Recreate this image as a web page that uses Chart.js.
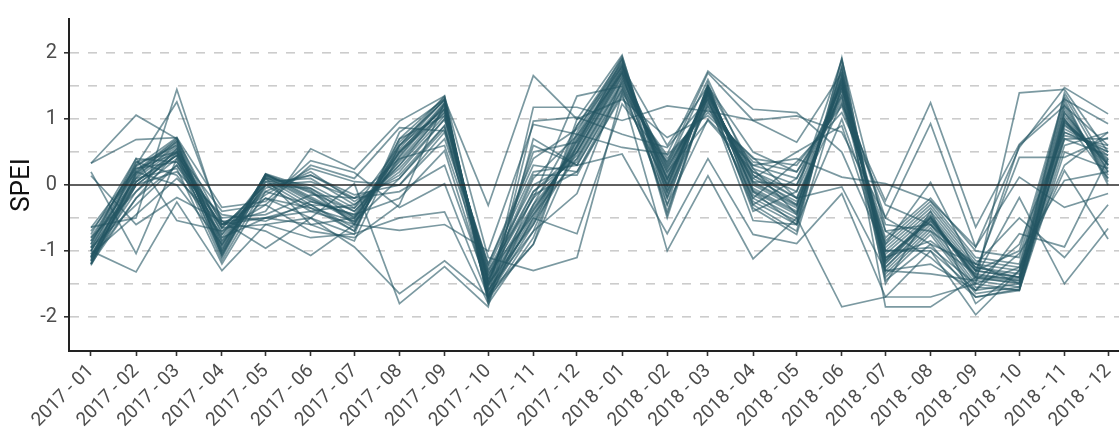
<!DOCTYPE html>
<html>
<head>
<meta charset="utf-8">
<script src="https://cdn.jsdelivr.net/npm/chart.js@4.4.1/dist/chart.umd.min.js"></script>
<style>
  html, body { margin: 0; padding: 0; background: #ffffff; }
  #wrap { width: 1119px; height: 429px; position: relative; }
</style>
</head>
<body>
<div id="wrap"><canvas id="speiChart" width="1119" height="429"></canvas></div>
<script>
// Meses (primer día de cada mes)
const months = [
  "2017-01", "2017-02", "2017-03", "2017-04", "2017-05", "2017-06",
  "2017-07", "2017-08", "2017-09", "2017-10", "2017-11", "2017-12",
  "2018-01", "2018-02", "2018-03", "2018-04", "2018-05", "2018-06",
  "2018-07", "2018-08", "2018-09", "2018-10", "2018-11", "2018-12"
];

// Marcas del eje Y (rejilla cada 0.5, etiqueta en enteros)
const yTicks = [-2, -1.5, -1, -0.5, 0, 0.5, 1, 1.5, 2];

// Series SPEI (una por estación)
const core01 = [-1.2, 0.17, 0.65, -1.05, 0.16, -0.2, -0.55, 0.5, 1.25, -1.6, -0.45, 0.65, 1.8, 0.0, 1.45, -0.05, -0.4, 1.65, -1.15, -0.48, -1.4, -1.5, 0.95, 0.4];
const core02 = [-1.15, 0.12, 0.62, -1.02, 0.14, -0.1, -0.6, 0.42, 1.22, -1.5, -0.35, 0.55, 1.75, 0.1, 1.4, 0.05, -0.3, 1.55, -1.1, -0.55, -1.35, -1.45, 1.0, 0.3];
const core03 = [-1.1, 0.2, 0.68, -0.95, 0.12, -0.25, -0.45, 0.55, 1.3, -1.65, -0.5, 0.7, 1.85, -0.05, 1.48, -0.1, -0.45, 1.7, -1.2, -0.5, -1.45, -1.55, 0.9, 0.45];
const core04 = [-1.0, 0.1, 0.55, -0.98, 0.17, -0.05, -0.5, 0.38, 1.15, -1.45, -0.3, 0.5, 1.7, 0.15, 1.38, 0.1, -0.25, 1.5, -1.05, -0.45, -1.3, -1.4, 1.05, 0.25];
const core05 = [-1.18, 0.05, 0.5, -1.1, 0.1, -0.3, -0.65, 0.6, 1.35, -1.7, -0.6, 0.75, 1.9, -0.1, 1.5, -0.15, -0.5, 1.75, -1.25, -0.6, -1.5, -1.6, 0.85, 0.5];
const core06 = [-0.95, 0.22, 0.7, -0.9, 0.15, -0.12, -0.4, 0.35, 1.1, -1.4, -0.2, 0.45, 1.65, 0.2, 1.35, 0.15, -0.2, 1.45, -1.0, -0.4, -1.25, -1.35, 1.1, 0.2];
const core07 = [-1.22, 0.0, 0.45, -1.05, 0.05, -0.35, -0.7, 0.65, 1.28, -1.75, -0.7, 0.8, 1.95, -0.15, 1.45, -0.2, -0.55, 1.9, -1.3, -0.65, -1.55, -1.6, 0.8, 0.55];
const core08 = [-0.9, 0.3, 0.6, -0.85, 0.1, 0.0, -0.35, 0.3, 1.05, -1.35, -0.1, 0.4, 1.6, 0.25, 1.3, 0.2, -0.1, 1.4, -0.95, -0.35, -1.2, -1.3, 1.15, 0.15];
const core09 = [-1.08, 0.15, 0.58, -1.0, 0.17, -0.18, -0.52, 0.48, 1.2, -1.55, -0.4, 0.6, 1.78, 0.05, 1.42, 0.0, -0.35, 1.6, -1.15, -0.5, -1.4, -1.45, 0.95, 0.35];
const core10 = [-1.12, -0.1, 0.4, -1.15, 0.0, -0.4, -0.6, 0.7, 1.33, -1.8, -0.8, 0.9, 1.92, -0.2, 1.5, -0.25, -0.6, 1.8, -1.35, -0.7, -1.6, -1.5, 0.75, 0.6];
const core11 = [-0.85, 0.35, 0.5, -0.8, 0.05, 0.1, -0.3, 0.25, 1.0, -1.3, 0.0, 0.35, 1.55, 0.3, 1.25, 0.25, 0.0, 1.35, -0.9, -0.3, -1.15, -1.25, 1.2, 0.1];
const core12 = [-1.0, 0.05, 0.52, -0.92, 0.13, -0.22, -0.48, 0.52, 1.18, -1.6, -0.55, 0.68, 1.82, -0.02, 1.44, -0.08, -0.42, 1.62, -1.18, -0.52, -1.42, -1.48, 0.92, 0.38];
const core13 = [-1.2, 0.18, 0.66, -1.08, 0.16, -0.08, -0.58, 0.44, 1.24, -1.52, -0.38, 0.58, 1.72, 0.08, 1.4, 0.03, -0.32, 1.58, -1.12, -0.48, -1.38, -1.42, 0.98, 0.32];
const core14 = [-0.75, 0.4, 0.35, -0.7, -0.1, 0.2, -0.25, 0.15, 0.9, -1.25, 0.2, 0.3, 1.5, 0.35, 1.2, 0.3, 0.1, 1.3, -0.85, -0.25, -1.1, -1.2, 1.25, 0.05];
const core15 = [-1.15, -0.2, 0.3, -0.6, -0.2, -0.5, -0.75, 0.8, 1.3, -1.7, -0.9, 1.0, 1.97, -0.3, 1.55, -0.3, -0.7, 1.93, -1.4, -0.75, -1.65, -1.55, 0.7, 0.7];
const core16 = [-0.65, 0.25, 0.48, -0.65, 0.0, 0.05, -0.2, 0.1, 0.85, -1.2, 0.3, 0.2, 1.45, 0.4, 1.15, 0.35, 0.2, 1.25, -0.8, -0.2, -1.0, -1.1, 1.3, 0.0];
const core17 = [-1.05, 0.0, 0.45, -0.55, -0.5, -0.6, -0.85, 0.6, 1.15, -1.5, -0.6, 0.5, 1.7, -0.4, 1.35, -0.35, -0.75, 1.5, -1.45, -0.9, -1.7, -1.58, 0.6, 0.8];
const core18 = [-0.95, 0.28, 0.72, -0.75, -0.05, 0.15, -0.15, 0.0, 0.8, -1.4, 0.15, 0.15, 1.4, 0.45, 1.1, 0.4, 0.3, 1.2, -0.7, -0.6, -1.3, -1.0, 1.35, 0.2];

const other01 = [0.33, 1.06, 0.7, -0.6, -0.5, -0.3, -0.35, 0.6, 1.3, -0.31, 1.66, 1.0, 1.3, 0.72, 1.05, 0.42, -0.2, 1.23, -0.24, 1.25, -0.64, 0.62, 1.3, 0.93];
const other02 = [0.33, 0.69, 0.72, -0.34, -0.25, 0.37, 0.19, -0.34, 0.02, -1.7, 1.18, 1.18, 0.98, 1.2, 1.12, 0.98, 1.05, 0.8, -0.49, 0.93, -0.94, 0.57, 1.48, 1.08];
const other03 = [0.2, -1.04, 0.4, -0.65, -0.6, -0.8, -0.74, -0.5, -0.41, -1.8, 0.97, 1.03, 0.77, 0.57, 1.3, -0.54, -0.6, 1.0, -0.9, 0.04, -1.3, 0.42, 0.42, 0.72];
const other04 = [0.14, -0.6, -0.19, -0.55, -0.7, -1.07, -0.6, -0.69, -0.6, -1.0, 0.92, 0.77, 0.57, 0.47, 1.73, 1.15, 1.1, 0.5, -1.0, -1.0, -1.97, -1.3, 0.22, -0.82];
const other05 = [-1.0, -1.32, -0.26, -1.3, -0.6, -0.5, 0.02, -1.8, -1.24, -1.85, 0.7, 0.3, 0.47, -0.74, 0.4, -0.75, -0.89, -0.13, -1.7, -1.7, -1.5, 1.4, 1.45, 0.5];
const other06 = [-0.64, -0.5, 1.45, -0.6, -0.4, 0.55, 0.24, 0.97, 1.35, -1.1, -1.3, -1.1, 1.4, -1.0, 0.14, -1.12, -0.5, -1.85, -1.7, -1.0, -1.6, -0.74, -0.94, 0.4];
const other07 = [-0.8, 0.3, 1.26, -0.55, -0.96, -0.5, -0.94, -1.65, -1.15, -1.7, -0.5, -0.74, 1.23, 0.35, 1.7, 0.98, 0.65, 1.7, -1.85, -1.85, -1.4, -0.19, -1.5, -0.66];
const other08 = [-0.9, 0.4, -0.54, -0.7, -0.3, 0.3, 0.1, 0.87, 0.82, -1.3, -0.2, 1.35, 1.5, -0.3, 1.0, 0.3, 0.4, 0.12, 0.02, -0.24, -0.94, 0.12, -0.34, -0.13];
const other09 = [-1.1, 0.0, 0.2, -0.45, -0.55, -0.25, -0.45, -0.2, 0.52, -1.6, -0.7, -0.13, 1.6, 0.2, 0.98, 0.2, -0.2, -0.03, -1.3, -1.2, -1.6, -1.04, 0.07, 0.2];
const other10 = [-0.95, -0.3, 0.3, -0.8, -0.5, -0.4, -0.3, 0.2, 1.0, -1.45, -0.1, 0.5, 1.65, 0.1, 1.3, -0.3, 0.1, 1.5, -0.6, -0.7, -1.2, -1.5, 1.1, 0.3];
const other11 = [-1.05, -0.45, 0.1, -0.6, -0.15, 0.25, 0.05, 0.0, 0.7, -1.2, 0.4, 0.85, 1.8, 0.6, 1.5, 0.5, 0.2, 1.35, -1.3, -1.35, -1.45, -0.9, 0.8, 0.5];
const other12 = [-1.15, 0.35, 0.15, -0.75, 0.1, -0.6, -0.5, 0.5, 1.1, -1.65, -0.9, 0.6, 1.9, -0.45, 1.45, -0.1, -0.6, 1.8, -1.5, -0.4, -1.8, -1.3, 1.0, 0.1];
const other13 = [-0.7, 0.2, 0.0, -0.9, 0.0, 0.15, -0.2, -0.1, 0.3, -1.55, 0.6, 0.3, 1.45, -0.2, 1.25, 0.1, 0.5, 0.9, -1.1, -0.85, -1.35, 0.6, 1.2, 0.6];
const other14 = [-1.2, -0.2, 0.5, -0.4, -0.3, -0.7, -0.8, -0.3, 1.25, -1.75, -0.3, 0.9, 1.85, -0.5, 1.4, -0.4, -0.1, 1.9, -0.7, -1.1, -1.7, -1.6, 0.5, 0.25];
const other15 = [-0.85, 0.1, 0.25, -1.2, -0.1, -0.3, -0.7, 0.7, 1.05, -1.45, 0.1, 0.75, 1.7, 0.3, 1.6, 0.15, -0.3, 1.45, -0.5, -0.9, -1.2, -0.5, -1.1, -0.3];
const other16 = [-1.0, 0.25, 0.35, -0.5, -0.45, -0.15, -0.2, 0.4, 0.6, -1.35, -0.45, 0.4, 1.55, -0.1, 1.2, -0.2, 0.35, 1.1, -0.3, -0.6, -1.25, -1.4, 0.7, 0.45];
const other17 = [-1.1, 0.05, 0.45, -0.85, -0.2, -0.35, -0.55, 0.1, 0.9, -1.7, -0.15, 0.2, 1.35, 0.0, 1.5, 0.25, -0.45, 1.65, -1.0, -0.95, -1.5, -1.25, 0.3, 0.8];
const other18 = [-0.8, -0.1, 0.55, -0.65, 0.0, -0.05, -0.4, 0.3, 1.15, -1.5, 0.5, 0.65, 1.75, 0.25, 1.35, 0.05, 0.0, 1.55, -1.25, -0.55, -1.3, -1.4, 1.4, 0.3];

const allSeries = [
  core01, core02, core03, core04, core05, core06, core07, core08, core09,
  core10, core11, core12, core13, core14, core15, core16, core17, core18,
  other01, other02, other03, other04, other05, other06, other07, other08, other09,
  other10, other11, other12, other13, other14, other15, other16, other17, other18
];

// Días desde 2017-01-01 (eje X en escala de tiempo real)
const DAY = 86400000;
const T0 = Date.UTC(2017, 0, 1);
function monthToDay(m) {
  const [y, mo] = m.split("-").map(Number);
  return (Date.UTC(y, mo - 1, 1) - T0) / DAY;
}
const monthDays = months.map(monthToDay);
const X_MIN = -15.1;
const X_MAX = 706.5;

const FONT = "Roboto, 'Liberation Sans', sans-serif";
const LINE_COLOR = "rgba(35, 85, 98, 0.6)";

function buildDatasets() {
  const sets = allSeries.map((vals, i) => ({
    label: "serie " + (i + 1),
    data: vals.map((v, j) => ({ x: monthDays[j], y: v })),
    borderColor: LINE_COLOR,
    borderWidth: 1.7,
    pointRadius: 0,
    tension: 0,
    fill: false,
    order: 1
  }));
  // línea horizontal en 0
  sets.push({
    label: "cero",
    data: [{ x: X_MIN, y: 0 }, { x: X_MAX, y: 0 }],
    borderColor: "#2a2a2a",
    borderWidth: 1.6,
    pointRadius: 0,
    fill: false,
    order: -1
  });
  return sets;
}

function createChart() {
  const ctx = document.getElementById("speiChart").getContext("2d");
  return new Chart(ctx, {
    type: "line",
    data: { datasets: buildDatasets() },
    options: {
      responsive: false,
      animation: false,
      layout: { padding: { top: 18, right: 0, left: 0, bottom: 0 } },
      plugins: { legend: { display: false }, tooltip: { enabled: false } },
      scales: {
        x: {
          type: "linear",
          min: X_MIN,
          max: X_MAX,
          afterBuildTicks: (scale) => {
            scale.ticks = monthDays.map((d) => ({ value: d }));
          },
          afterFit: (scale) => {
            scale.height = 78;
            scale.paddingLeft = 0;
            scale.paddingRight = 0;
          },
          grid: {
            drawOnChartArea: false,
            drawTicks: true,
            tickLength: 5,
            tickColor: "#333333",
            tickWidth: 1.6
          },
          border: { display: true, color: "#222222", width: 2 },
          ticks: {
            autoSkip: false,
            minRotation: 45,
            maxRotation: 45,
            padding: 4,
            color: "#4d4d4d",
            font: { family: FONT, size: 19 },
            callback: (value) => {
              const i = monthDays.indexOf(value);
              return i >= 0 ? months[i].replace("-", " - ") : "";
            }
          }
        },
        y: {
          min: -2.52,
          max: 2.52,
          afterBuildTicks: (scale) => {
            scale.ticks = yTicks.map((v) => ({ value: v }));
          },
          afterFit: (scale) => { scale.width = 69; },
          grid: {
            drawOnChartArea: true,
            drawTicks: true,
            tickLength: 5,
            lineWidth: 1.6,
            tickWidth: 1.6,
            color: (c) => (c.tick && c.tick.value !== 0 ? "#cccccc" : "rgba(0,0,0,0)"),
            tickColor: (c) => (c.tick && Number.isInteger(c.tick.value) ? "#333333" : "rgba(0,0,0,0)"),
            tickBorderDash: []
          },
          border: { display: true, color: "#222222", width: 2, dash: [9, 9] },
          ticks: {
            padding: 7,
            color: "#4d4d4d",
            font: { family: FONT, size: 20 },
            callback: (value) => (Number.isInteger(value) ? String(value) : "")
          },
          title: {
            display: true,
            text: "SPEI",
            color: "#111111",
            font: { family: FONT, size: 26 },
            padding: { top: 7, bottom: 0 }
          }
        }
      }
    }
  });
}

window.addEventListener("load", () => {
  createChart();
});
</script>
</body>
</html>
